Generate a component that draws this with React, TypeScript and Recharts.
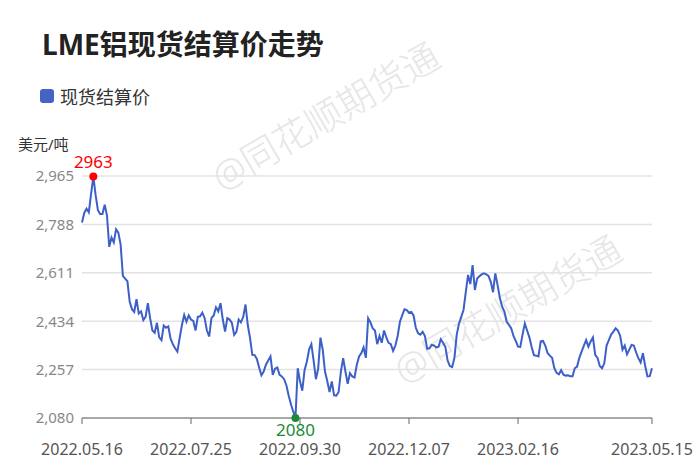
import { LineChart, Line, XAxis, YAxis, CartesianGrid, ReferenceDot } from 'recharts'

// LME aluminium cash settlement, one value per trading day (2022.05.16 – 2023.05.15)
const prices = [
  2795, 2830, 2845, 2832, 2900, 2963, 2895, 2840, 2826, 2826,
  2860, 2820, 2706, 2740, 2722, 2770, 2758, 2715, 2600, 2590,
  2580, 2505, 2478, 2468, 2515, 2462, 2470, 2438, 2450, 2500,
  2445, 2400, 2392, 2428, 2375, 2365, 2418, 2410, 2415, 2370,
  2350, 2335, 2323,
  2372, 2420, 2457, 2432, 2455, 2440, 2435, 2400, 2450, 2452,
  2465, 2445, 2400, 2378, 2445, 2455, 2485, 2470, 2500, 2440,
  2396, 2445, 2440, 2428, 2384, 2395, 2440, 2430, 2450, 2495,
  2420, 2372, 2311, 2310, 2296, 2265, 2236, 2250, 2275, 2290,
  2305, 2238, 2260,
  2265, 2238, 2232, 2222, 2200, 2162, 2130, 2104, 2080, 2262,
  2214, 2180, 2255, 2286, 2330, 2350, 2290, 2222, 2260, 2374,
  2330, 2250, 2215, 2175, 2214, 2163, 2162, 2175, 2250, 2299,
  2250, 2205, 2244, 2232, 2228, 2274, 2305, 2317, 2338,
  2300, 2445, 2430, 2408, 2400, 2350, 2380, 2355, 2400, 2375,
  2355, 2350, 2325, 2345, 2380, 2432, 2455, 2478, 2475, 2465,
  2468, 2455, 2410, 2390, 2385, 2395, 2380, 2333, 2335, 2347,
  2345, 2338, 2341, 2368, 2355, 2340, 2290, 2270, 2266, 2300,
  2384, 2425, 2450,
  2475, 2540, 2603, 2570, 2639, 2548, 2590, 2598, 2605, 2609,
  2605, 2600, 2578, 2540, 2609, 2566, 2520, 2487, 2469, 2432,
  2420, 2408, 2380, 2362, 2341, 2340, 2385, 2426, 2400, 2375,
  2340, 2310, 2308, 2305, 2360, 2362, 2345, 2318, 2308, 2300,
  2262,
  2245, 2240, 2255, 2238, 2235, 2236, 2233, 2233, 2262, 2268,
  2300, 2323, 2345, 2365, 2341, 2360, 2375, 2311, 2300, 2270,
  2262, 2280, 2345, 2365, 2385, 2396, 2408, 2400, 2380, 2330,
  2345, 2313, 2330, 2347, 2345, 2320, 2299, 2283, 2317, 2270,
  2232, 2233, 2262,
]

const dateTicks = [0, 48, 96, 144, 192, 251]
const dateLabels = ['2022.05.16', '2022.07.25', '2022.09.30', '2022.12.07', '2023.02.16', '2023.05.15']
const priceTicks = [2080, 2257, 2434, 2611, 2788, 2965]

const FONT = "'Noto Sans', 'Noto Sans CJK SC', sans-serif"
const LINE_COLOR = '#3d5fc8'

const data = prices.map((price, i) => ({ i, price }))

const maxIdx = prices.indexOf(Math.max(...prices.slice(0, 60)))
const minIdx = prices.indexOf(Math.min(...prices))

const Watermark = ({ x, y }: { x: number; y: number }) => (
  <text
    x={x}
    y={y}
    transform={`rotate(-30 ${x} ${y})`}
    fontSize={37}
    fontWeight={300}
    fill="#e6e6e6"
    fontFamily={FONT}
  >
    @同花顺期货通
  </text>
)

export default function App() {
  return (
    <div style={{ position: 'absolute', left: 0, top: 0, width: 700, height: 476, background: '#fff', fontFamily: FONT }}>
      <svg width={700} height={476} style={{ position: 'absolute', left: 0, top: 0 }}>
        <Watermark x={222} y={192} />
        <Watermark x={404} y={385} />
      </svg>

      <div style={{ position: 'absolute', left: 42, top: 29, fontSize: 28, lineHeight: '30px', fontWeight: 700, color: '#222' }}>
        LME铝现货结算价走势
      </div>

      <div style={{ position: 'absolute', left: 40, top: 86, display: 'flex', alignItems: 'center', height: 20 }}>
        <div style={{ width: 14, height: 14, borderRadius: 3, background: '#4563c4', marginRight: 6 }} />
        <span style={{ fontSize: 18, color: '#333' }}>现货结算价</span>
      </div>

      <div style={{ position: 'absolute', left: 18, top: 134, fontSize: 15, lineHeight: '20px', color: '#333' }}>美元/吨</div>

      <div style={{ position: 'absolute', left: 0, top: 0 }}>
        <LineChart width={700} height={476} data={data} margin={{ top: 176, right: 48, bottom: 28, left: 8 }}>
          <CartesianGrid vertical={false} stroke="#e3e3e3" strokeWidth={1.5} />
          <XAxis
            dataKey="i"
            type="number"
            domain={[0, prices.length - 1]}
            ticks={dateTicks}
            tickFormatter={(v: number) => dateLabels[dateTicks.indexOf(v)] ?? ''}
            height={30}
            interval={0}
            stroke="#666"
            tickSize={6}
            tickMargin={20}
            tick={{ fill: '#555', fontSize: 16, fontFamily: FONT }}
          />
          <YAxis
            type="number"
            domain={[2080, 2965]}
            ticks={priceTicks}
            width={74}
            axisLine={false}
            tickLine={false}
            tickFormatter={(v: number) => v.toLocaleString('en-US')}
            tick={{ fill: '#888', fontSize: 15, fontFamily: FONT }}
          />
          <Line
            type="linear"
            dataKey="price"
            stroke={LINE_COLOR}
            strokeWidth={2}
            dot={false}
            isAnimationActive={false}
          />
          <ReferenceDot
            x={maxIdx}
            y={prices[maxIdx]}
            r={4}
            fill="#ff0000"
            stroke="none"
            label={{ value: String(prices[maxIdx]), position: 'top', fill: '#ff0000', fontSize: 17, fontFamily: FONT }}
          />
          <ReferenceDot
            x={minIdx}
            y={prices[minIdx]}
            r={4}
            fill="#1a8a35"
            stroke="none"
            label={{ value: String(prices[minIdx]), position: 'bottom', offset: 2, fill: '#1a8a35', fontSize: 17, fontFamily: FONT }}
          />
        </LineChart>
      </div>
    </div>
  )
}
